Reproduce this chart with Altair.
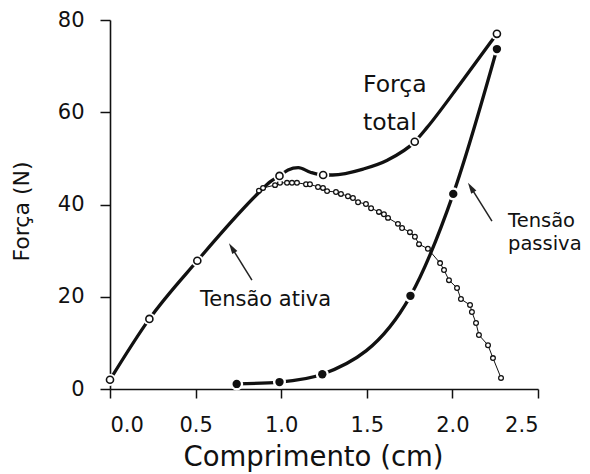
import altair as alt
import pandas as pd

# ---- data ----
# Força total: marker positions
total_mk_x = [0.0, 0.23, 0.51, 0.99, 1.245, 1.78, 2.26]
total_mk_y = [2.0, 15.2, 27.8, 46.2, 46.4, 53.6, 77.0]
# Força total: curve path
total_curve_x = [0.0, 0.23, 0.51, 0.87, 0.935, 0.99, 1.04, 1.10, 1.17,
                 1.245, 1.30, 1.48, 1.62, 1.78, 1.85, 2.05, 2.22, 2.26]
total_curve_y = [2.0, 15.2, 27.8, 42.6, 44.9, 46.2, 47.5, 48.0, 47.0,
                 46.4, 46.4, 47.7, 49.6, 53.6, 56.6, 66.4, 75.0, 77.0]

# Tensão passiva: markers (the curve runs through them)
passive_mk_x = [0.74, 0.99, 1.24, 1.755, 2.005, 2.26]
passive_mk_y = [1.1, 1.5, 3.2, 20.2, 42.3, 73.7]

# Tensão ativa: small open circles (descending limb)
active_x = [0.87, 0.894, 0.964, 0.993, 1.034, 1.063, 1.092, 1.145, 1.168, 1.215,
            1.244, 1.268, 1.320, 1.349, 1.390, 1.419, 1.449, 1.495, 1.525, 1.571,
            1.600, 1.624, 1.682, 1.706, 1.752, 1.781, 1.805, 1.857, 1.928, 1.951,
            1.980, 2.027, 2.050, 2.103, 2.114, 2.138, 2.155, 2.208, 2.237, 2.284]
active_y = [43.0, 43.6, 44.2, 44.7, 44.7, 44.7, 44.7, 44.4, 44.4, 43.8,
            43.6, 42.9, 42.7, 42.3, 41.8, 41.4, 40.5, 40.1, 39.2, 38.4,
            37.9, 37.1, 35.8, 34.9, 34.0, 33.0, 31.4, 30.4, 27.3, 25.8,
            23.6, 21.9, 19.5, 18.2, 16.7, 14.3, 11.7, 9.5, 6.7, 2.4]

# annotation arrows (tail -> head centre), data units
arrow_x = [0.829, 2.231]
arrow_y = [23.6, 36.4]
arrow_x2 = [0.712, 2.108]
arrow_y2 = [30.6, 43.7]

# annotation texts
lab_total = ["Força", "total"]
lab_total_x = [1.478, 1.478]
lab_total_y = [64.4, 56.2]
lab_active = ["Tensão ativa"]
lab_active_x = [0.526]
lab_active_y = [18.0]
lab_passive = ["Tensão", "passiva"]
lab_passive_x = [2.325, 2.325]
lab_passive_y = [35.1, 30.1]

x_ticks = [0.0, 0.5, 1.0, 1.5, 2.0, 2.5]
y_ticks = [0, 20, 40, 60, 80]

FONT = "DejaVu Sans"
INK = "#111111"

xaxis = alt.Axis(values=x_ticks, format=".1f", grid=False, tickSize=9, tickWidth=1.5,
                 domainWidth=1.6, domainColor=INK, tickColor=INK, labelColor=INK,
                 labelFont=FONT, labelFontSize=21, labelPadding=16,
                 title="Comprimento (cm)", titleFont=FONT, titleFontSize=27.5,
                 titleFontWeight="normal", titleColor=INK, titleX=203, titleY=76,
                 titleBaseline="alphabetic", titleAlign="center")
yaxis = alt.Axis(values=y_ticks, grid=False, tickSize=10, tickWidth=1.5,
                 domainWidth=1.6, domainColor=INK, tickColor=INK, labelColor=INK,
                 labelFont=FONT, labelFontSize=21, labelPadding=16,
                 title="Força (N)", titleFont=FONT, titleFontSize=22,
                 titleFontWeight="normal", titleColor=INK, titleX=-82, titleY=191,
                 titleBaseline="alphabetic", titleAlign="center", titleAngle=270)

xs = alt.Scale(domain=[0, 2.5], nice=False, zero=False)
ys = alt.Scale(domain=[0, 80], nice=False)

def X(f="x"):
    return alt.X(f"{f}:Q", scale=xs, axis=xaxis)

def Y(f="y"):
    return alt.Y(f"{f}:Q", scale=ys, axis=yaxis)

total_mk = pd.DataFrame({"x": total_mk_x, "y": total_mk_y})
total_curve = pd.DataFrame({"x": total_curve_x, "y": total_curve_y})
passive_mk = pd.DataFrame({"x": passive_mk_x, "y": passive_mk_y})
active = pd.DataFrame({"x": active_x, "y": active_y})
arrows = pd.DataFrame({"x": arrow_x, "y": arrow_y, "x2": arrow_x2, "y2": arrow_y2})

l_total = alt.Chart(total_curve).mark_line(
    interpolate="monotone", color=INK, strokeWidth=3.3, strokeCap="round"
).encode(x=X(), y=Y())
l_passive = alt.Chart(passive_mk).mark_line(
    interpolate="monotone", color=INK, strokeWidth=3.3, strokeCap="round"
).encode(x=X(), y=Y())

a_line = alt.Chart(active).mark_line(color=INK, strokeWidth=1).encode(x=X(), y=Y())
a_pts = alt.Chart(active).mark_point(
    shape="circle", size=22, filled=False, fill="white", fillOpacity=1,
    stroke=INK, strokeWidth=1.3, opacity=1
).encode(x=X(), y=Y())

t_halo = alt.Chart(total_mk).mark_point(
    shape="circle", size=150, filled=True, color="white", opacity=1
).encode(x=X(), y=Y())
t_pts = alt.Chart(total_mk).mark_point(
    shape="circle", size=50, filled=False, fill="white", fillOpacity=1,
    stroke=INK, strokeWidth=1.6, opacity=1
).encode(x=X(), y=Y())

p_halo = alt.Chart(passive_mk).mark_point(
    shape="circle", size=170, filled=True, color="white", opacity=1
).encode(x=X(), y=Y())
p_pts = alt.Chart(passive_mk).mark_point(
    shape="circle", size=70, filled=True, color=INK, opacity=1
).encode(x=X(), y=Y())

arr_rule = alt.Chart(arrows).mark_rule(color="#222222", strokeWidth=1.5).encode(
    x=X(), y=Y(), x2="x2:Q", y2="y2:Q")
arr_head = alt.Chart(arrows).mark_point(
    shape="M0,-1L0.55,1L-0.55,1Z", size=121, filled=True, color="#222222",
    opacity=1, angle=328
).encode(x=X("x2"), y=Y("y2"))

def texts(labels, lx, ly, size):
    df = pd.DataFrame({"t": labels, "x": lx, "y": ly})
    return alt.Chart(df).mark_text(
        align="left", baseline="alphabetic", font=FONT, fontSize=size, color=INK
    ).encode(x=X(), y=Y(), text="t:N")

txt1 = texts(lab_total, lab_total_x, lab_total_y, 23.5)
txt2 = texts(lab_active, lab_active_x, lab_active_y, 21)
txt3 = texts(lab_passive, lab_passive_x, lab_passive_y, 19.5)

chart = alt.layer(
    l_total, l_passive, a_line, a_pts, t_halo, t_pts, p_halo, p_pts,
    arr_rule, arr_head, txt1, txt2, txt3
).properties(
    width=428, height=369,
    autosize=alt.AutoSizeParams(type="none"),
    padding={"left": 102, "top": 12, "right": 44, "bottom": 92},
    background="white"
).configure_view(stroke=None)

chart.save("out.html", embed_options={"renderer": "svg", "actions": False})
